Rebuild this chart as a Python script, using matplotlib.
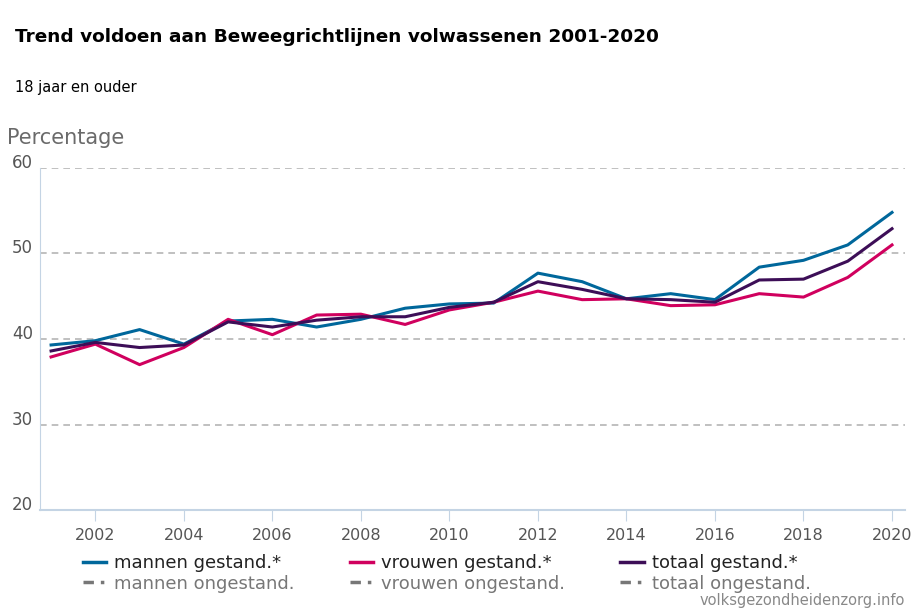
import matplotlib.pyplot as plt
from matplotlib.lines import Line2D

years = list(range(2001, 2021))
mannen = [39.3, 39.8, 41.1, 39.4, 42.1, 42.3, 41.4, 42.3, 43.6, 44.1,
          44.2, 47.7, 46.7, 44.7, 45.3, 44.6, 48.4, 49.2, 51.0, 54.8]
vrouwen = [37.9, 39.4, 37.0, 39.0, 42.3, 40.5, 42.8, 42.9, 41.7, 43.4,
           44.3, 45.6, 44.6, 44.7, 43.9, 44.0, 45.3, 44.9, 47.2, 51.0]
totaal = [38.6, 39.6, 39.0, 39.3, 42.0, 41.4, 42.2, 42.6, 42.6, 43.7,
          44.3, 46.7, 45.8, 44.7, 44.6, 44.3, 46.9, 47.0, 49.1, 52.9]
xticks = list(range(2002, 2021, 2))
yticks = [20, 30, 40, 50, 60]

c_man = '#00679b'
c_vrouw = '#d0005e'
c_tot = '#3d0e57'

fig = plt.figure(figsize=(9.2, 6.13), dpi=100)
ax = fig.add_axes([0.0435, 0.168, 0.9405, 0.558])

ax.plot(years, mannen, color=c_man, lw=2.2)
ax.plot(years, vrouwen, color=c_vrouw, lw=2.2)
ax.plot(years, totaal, color=c_tot, lw=2.2)

ax.set_xlim(2000.75, 2020.3)
ax.set_ylim(20, 60)
ax.set_yticks(yticks)
ax.set_xticks(xticks)
ax.grid(axis='y', color='#b5b5b5', ls=(0, (4, 3)), lw=1.2)
for s in ['top', 'right']:
    ax.spines[s].set_visible(False)
ax.spines['left'].set_color('#c4d4e4')
ax.spines['bottom'].set_color('#c4d4e4')
ax.spines['bottom'].set_linewidth(1.5)
ax.tick_params(axis='y', length=0, labelsize=12, labelcolor='#555555', pad=5)
ax.tick_params(axis='x', length=8, color='#c4d4e4', labelsize=11.5,
               labelcolor='#555555', pad=5)
for lbl in ax.get_yticklabels():
    lbl.set_verticalalignment('baseline')

fig.text(0.016, 0.94, 'Trend voldoen aan Beweegrichtlijnen volwassenen 2001-2020',
         fontsize=13.3, fontweight='bold', va='center')
fig.text(0.016, 0.858, '18 jaar en ouder', fontsize=10.5, va='center')
fig.text(0.008, 0.775, 'Percentage', fontsize=15, color='#6a6a6a', va='center')

handles = [
    Line2D([], [], color=c_man, lw=2.5),
    Line2D([], [], color='#777777', lw=2.5, ls=(0, (3, 2, 1, 2))),
    Line2D([], [], color=c_vrouw, lw=2.5),
    Line2D([], [], color='#777777', lw=2.5, ls=(0, (3, 2, 1, 2))),
    Line2D([], [], color=c_tot, lw=2.5),
    Line2D([], [], color='#777777', lw=2.5, ls=(0, (3, 2, 1, 2))),
]
labels = ['mannen gestand.*', 'mannen ongestand.',
          'vrouwen gestand.*', 'vrouwen ongestand.',
          'totaal gestand.*', 'totaal ongestand.']
leg = fig.legend(handles, labels, ncol=3, loc='upper left',
                 bbox_to_anchor=(0.082, 0.108), frameon=False, fontsize=13,
                 handlelength=1.3, handletextpad=0.45, columnspacing=3.05,
                 labelspacing=0.15, borderaxespad=0)
for i, t in enumerate(leg.get_texts()):
    t.set_color('#222222' if i % 2 == 0 else '#777777')

fig.text(0.984, 0.02, 'volksgezondheidenzorg.info', fontsize=10.5,
         color='#888888', ha='right', va='center')

fig.savefig('out.png', dpi=100)
